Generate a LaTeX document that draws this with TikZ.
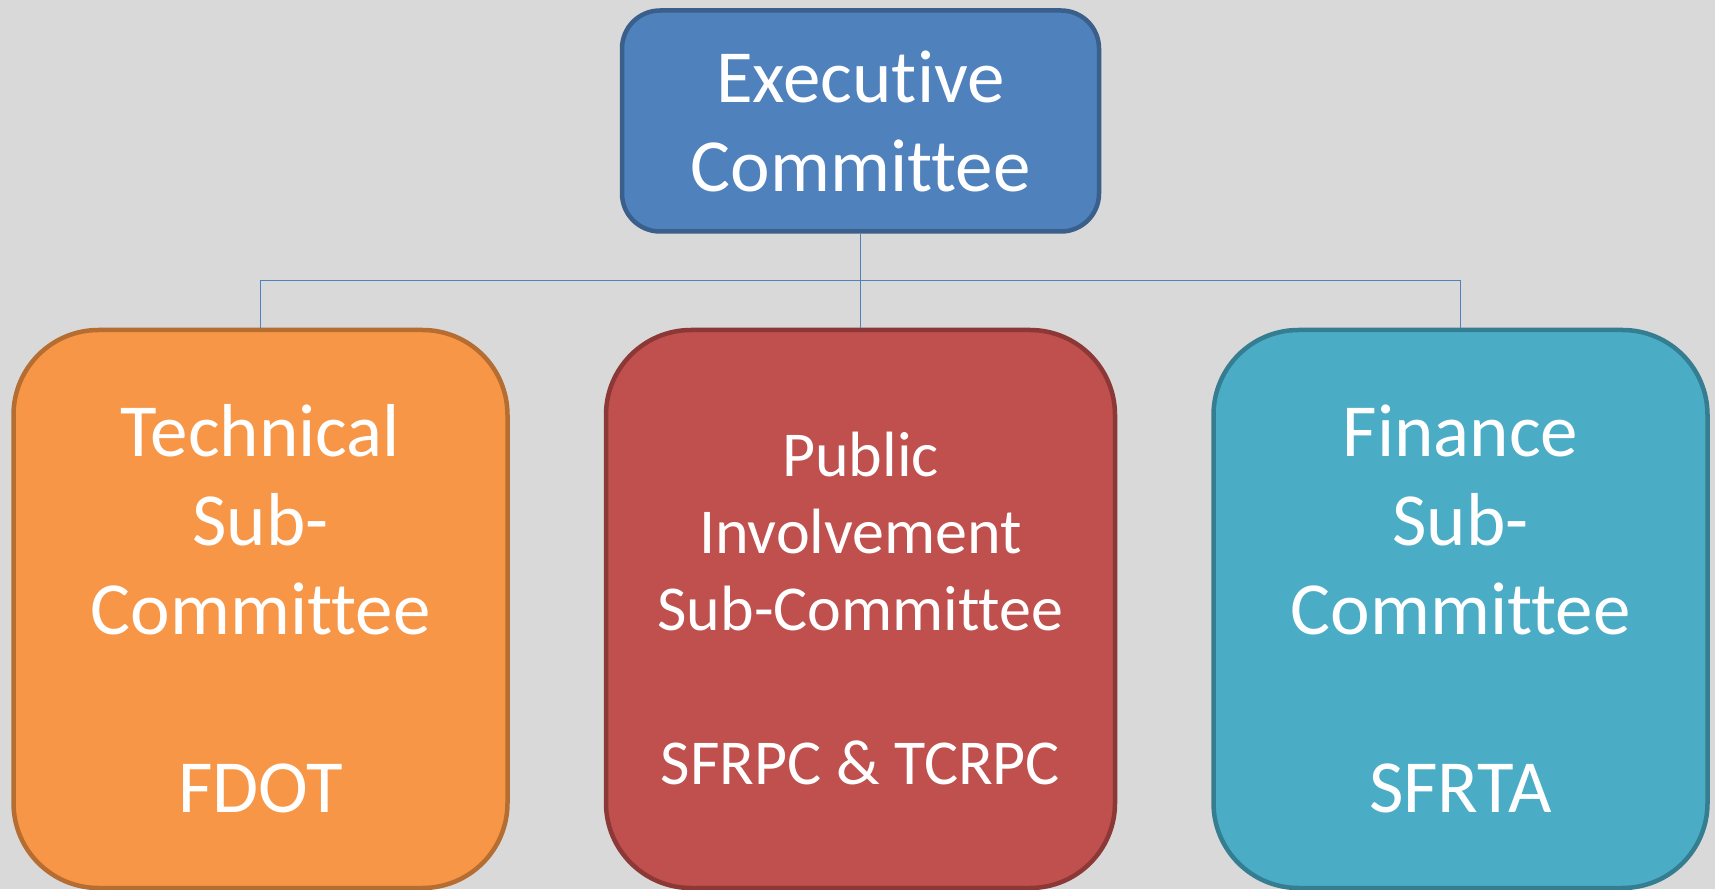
\documentclass[tikz,border=0pt]{standalone}
\usepackage{fontspec}
\setmainfont{Carlito}[Ligatures=NoCommon]
\usepackage{tikz}
\usetikzlibrary{positioning,calc}
\usepackage{xcolor}

\definecolor{paper}{HTML}{D9D9D9}
\definecolor{execfill}{HTML}{4F81BD}
\definecolor{execline}{HTML}{3A5F8B}
\definecolor{techfill}{HTML}{F79646}
\definecolor{techline}{HTML}{B66D31}
\definecolor{pubfill}{HTML}{C0504D}
\definecolor{publine}{HTML}{8C3836}
\definecolor{finfill}{HTML}{4BACC6}
\definecolor{finline}{HTML}{357D91}

\begin{document}
\begin{tikzpicture}[%
    x=1pt,y=1pt,node distance=94pt,
    committee/.style={%
      rectangle,rounded corners=85pt,line width=4.5pt,text=white,align=center,
      minimum width=494pt,minimum height=558pt,inner sep=0pt,
      font=\fontsize{75}{89}\selectfont},
    link/.style={draw=execfill,line width=1.5pt}
  ]
    % page
    \fill[paper] (0,0) rectangle (1715,889);
    \useasboundingbox (0,0) rectangle (1715,889);

    \node[committee, fill=pubfill, draw=publine, minimum width=509pt,
          font=\fontsize{64}{77}\selectfont]
          (pub) at (860.5,280)  {Public\\Involvement\\Sub-Committee\\[77pt]SFRPC \& TCRPC};
    \node[committee, fill=techfill, draw=techline] (tech) [left=of pub]
          {Technical\\Sub-\\Committee\\[89pt]FDOT};
    \node[committee, fill=finfill, draw=finline] (fin) [right=of pub]
          {Finance\\Sub-\\Committee\\[89pt]SFRTA};
    \node[committee, fill=execfill, draw=execline, rounded corners=38pt,
          minimum width=477pt, minimum height=221pt] (exec) [above=of pub]
          {Executive\\Committee};

    % reporting lines
    \coordinate (bus) at ($(exec.south)!0.5!(pub.north)$);
    \draw[link] (exec.south) -- (pub.north);
    \draw[link] (tech.north) |- (bus) -| (fin.north);
  \end{tikzpicture}
\end{document}
